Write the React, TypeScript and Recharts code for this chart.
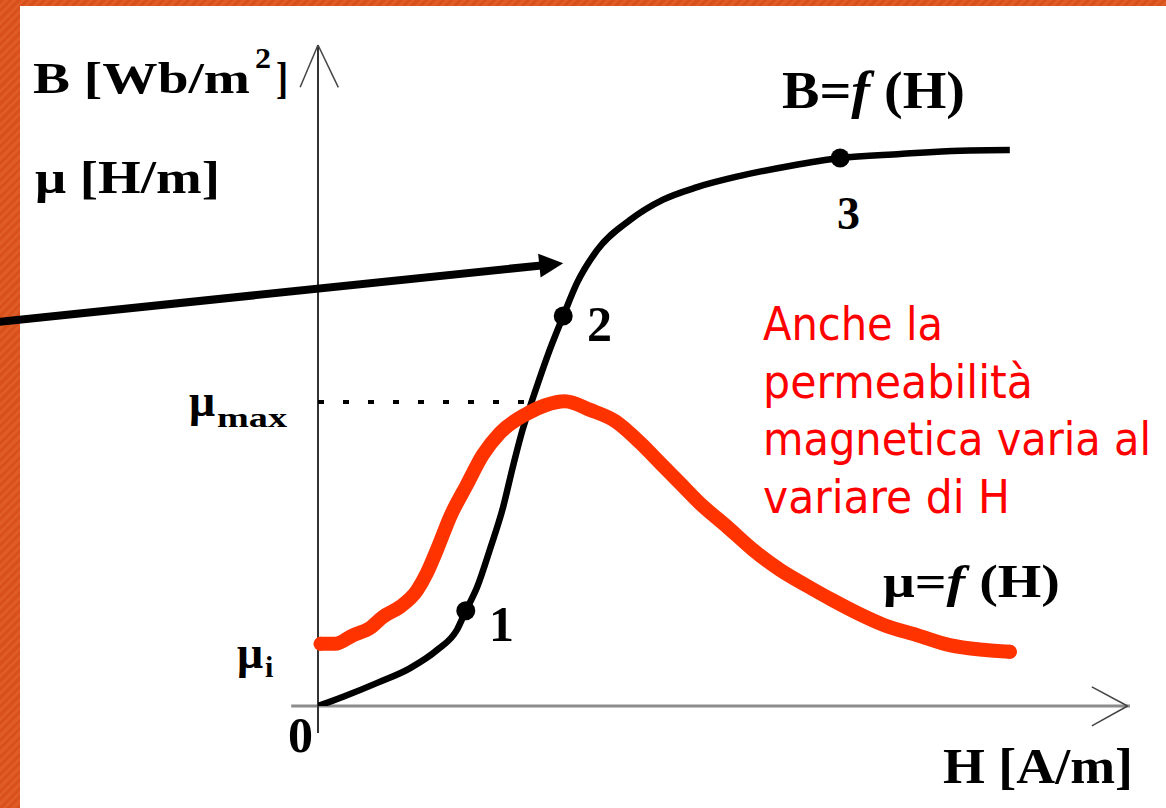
import React from 'react';
import { ComposedChart, Line, XAxis, YAxis, ReferenceLine, ReferenceDot } from 'recharts';

// B = f(H) curve (H and B on a 0..100 scale)
const bH = [0, 3.1, 7.3, 11.3, 14.7, 17.1, 18.2, 19.6, 21.2, 22.8, 24.0, 25.2, 26.5, 28.3, 30.2, 31.9, 34.4, 38.4, 42.5, 46.7, 52.0, 58.1, 64.3, 71.7, 79.1, 85.2];
const bValues = [0, 1.4, 3.5, 5.7, 8.5, 11.5, 14.4, 18.0, 23.8, 30.1, 36.2, 41.8, 46.7, 53.1, 59.0, 64.0, 69.0, 73.5, 76.6, 78.5, 80.2, 81.7, 82.9, 83.5, 84.0, 84.1];

// mu = f(H) curve (hand drawn red one)
const muH = [0.3, 2.1, 4.3, 6.4, 8.0, 10.1, 12.2, 13.4, 14.7, 16.3, 18.3, 20.3, 22.4, 25.7, 28.0, 30.4, 33.5, 36.6, 39.7, 42.1, 44.6, 47.0, 50.4, 53.6, 56.9, 60.2, 63.4, 66.7, 69.6, 73.8, 77.8, 81.9, 85.2];
const muValues = [9.4, 9.4, 10.7, 11.8, 13.5, 15.0, 17.5, 20.1, 23.8, 28.7, 33.4, 38.0, 41.3, 44.2, 45.5, 46.1, 44.8, 43.1, 39.8, 36.8, 33.7, 30.7, 27.1, 23.6, 20.6, 18.2, 16.0, 13.9, 12.3, 10.7, 9.2, 8.5, 8.2];

// marked points on B curve
const pointLabels = ['1', '2', '3'];
const pointH = [18.2, 30.2, 64.3];
const pointB = [14.4, 59.0, 82.9];

const MU_MAX = 46.0;
const MU_MAX_H = 26.7;

const noteLines = ['Anche la', 'permeabilità', 'magnetica varia al', 'variare di H'];

const bData = bH.map((h, i) => ({ h, b: bValues[i] }));
const muData = muH.map((h, i) => ({ h, m: muValues[i] }));
const muEnds = [0, muH.length - 1];

const W = 1166;
const H = 808;
const RED = '#FF3300';

const BigArrow = (props: any) => {
    const { x1, y1, x2, y2 } = props;
    const len = Math.hypot(x2 - x1, y2 - y1);
    const ux = (x2 - x1) / len;
    const uy = (y2 - y1) / len;
    const head = 24;
    const half = 12;
    const bx = x2 - ux * head;
    const by = y2 - uy * head;
    const pts = [
        [x2, y2],
        [bx - uy * half, by + ux * half],
        [bx + uy * half, by - ux * half],
    ].map(p => p.join(',')).join(' ');
    return (
        <g>
            <line x1={x1} y1={y1} x2={bx + ux * 2} y2={by + uy * 2} stroke="#000" strokeWidth={8} />
            <polygon points={pts} fill="#000" />
        </g>
    );
};

const serif = "'Liberation Serif', 'Times New Roman', serif";

const Labels = () => (
    <svg width={W} height={H} style={{ position: 'absolute', left: 0, top: 0, pointerEvents: 'none' }}>
        <g fontFamily={serif} fontWeight="bold" fill="#000">
            <text x={33} y={93} fontSize={44} textLength={217} lengthAdjust="spacingAndGlyphs">B [Wb/m</text>
            <text x={255} y={68} fontSize={30} textLength={16} lengthAdjust="spacingAndGlyphs">2</text>
            <text x={276} y={93} fontSize={44} textLength={12} lengthAdjust="spacingAndGlyphs">]</text>

            <text x={35} y={193} fontSize={46} textLength={185} lengthAdjust="spacingAndGlyphs">μ [H/m]</text>

            <text x={189} y={416} fontSize={46}>μ</text>
            <text x={217} y={427} fontSize={28} textLength={70} lengthAdjust="spacingAndGlyphs">max</text>

            <text x={237} y={668} fontSize={46}>μ</text>
            <text x={265} y={677} fontSize={30}>i</text>

            <text x={288} y={752} fontSize={50}>0</text>

            <text x={943} y={783} fontSize={50} textLength={190} lengthAdjust="spacingAndGlyphs">H [A/m]</text>

            <text x={782} y={108} fontSize={52} textLength={183} lengthAdjust="spacingAndGlyphs">
                B=<tspan fontStyle="italic">f</tspan> (H)
            </text>
            <text x={883} y={597} fontSize={46} textLength={177} lengthAdjust="spacingAndGlyphs">
                μ=<tspan fontStyle="italic">f</tspan> (H)
            </text>

            <text x={489} y={641} fontSize={50}>{pointLabels[0]}</text>
            <text x={587} y={341} fontSize={50}>{pointLabels[1]}</text>
            <text x={837} y={229} fontSize={46}>{pointLabels[2]}</text>
        </g>
        <g fontFamily="'DejaVu Sans Condensed', 'DejaVu Sans', sans-serif" fontStretch="condensed" fill="#FF0000" fontSize={46}>
            {noteLines.map((t, i) => (
                <text
                    key={t}
                    x={763}
                    y={340 + i * 57.5}
                    textLength={[180, 270, 388, 247][i]}
                    lengthAdjust="spacingAndGlyphs"
                >
                    {t}
                </text>
            ))}
        </g>
    </svg>
);

const App: React.FC = () => {
    return (
        <div style={{ position: 'absolute', left: 0, top: 0, width: W, height: H, background: '#fff', overflow: 'hidden' }}>
            <div
                style={{
                    position: 'absolute', left: 0, top: 0, width: 20, height: H,
                    background: 'repeating-linear-gradient(135deg, #D8511D 0px, #D8511D 3px, #DF5C27 3px, #DF5C27 6px)',
                }}
            />
            <div
                style={{
                    position: 'absolute', left: 0, top: 0, width: W, height: 6,
                    background: 'repeating-linear-gradient(135deg, #D8511D 0px, #D8511D 3px, #DF5C27 3px, #DF5C27 6px)',
                }}
            />
            <div style={{ position: 'absolute', left: 0, top: 0 }}>
                <ComposedChart width={W} height={H} margin={{ top: 45, right: 36, bottom: 102, left: 318 }}>
                    <XAxis type="number" dataKey="h" domain={[0, 100]} hide allowDataOverflow />
                    <YAxis type="number" domain={[0, 100]} hide allowDataOverflow />

                    {/* axes with open arrow heads */}
                    <ReferenceLine segment={[{ x: -3.3, y: 0 }, { x: 100, y: 0 }]} stroke="#8c8c8c" strokeWidth={3} ifOverflow="visible" />
                    <ReferenceLine segment={[{ x: 0, y: -4.1 }, { x: 0, y: 100 }]} stroke="#333" strokeWidth={2} ifOverflow="visible" />
                    <ReferenceLine segment={[{ x: -2.2, y: 93.6 }, { x: 0, y: 100 }]} stroke="#444" strokeWidth={1.5} ifOverflow="visible" />
                    <ReferenceLine segment={[{ x: 2.5, y: 93.6 }, { x: 0, y: 100 }]} stroke="#444" strokeWidth={1.5} ifOverflow="visible" />
                    <ReferenceLine segment={[{ x: 95.3, y: 2.9 }, { x: 99.7, y: 0 }]} stroke="#444" strokeWidth={1.5} ifOverflow="visible" />
                    <ReferenceLine segment={[{ x: 95.3, y: -3.0 }, { x: 99.7, y: 0 }]} stroke="#444" strokeWidth={1.5} ifOverflow="visible" />

                    {/* mu max guide */}
                    <ReferenceLine
                        segment={[{ x: 0, y: MU_MAX }, { x: MU_MAX_H, y: MU_MAX }]}
                        stroke="#000"
                        strokeWidth={4}
                        strokeDasharray="6 19"
                        ifOverflow="visible"
                    />

                    <Line
                        data={bData}
                        dataKey="b"
                        type="monotone"
                        stroke="#000"
                        strokeWidth={6.5}
                        dot={false}
                        activeDot={false}
                        isAnimationActive={false}
                    />
                    <Line
                        data={muData}
                        dataKey="m"
                        type="monotone"
                        stroke={RED}
                        strokeWidth={14}
                        strokeLinecap="round"
                        strokeLinejoin="round"
                        dot={false}
                        activeDot={false}
                        isAnimationActive={false}
                    />
                    {/* rounded pen ends of the red stroke */}
                    {muEnds.map(i => (
                        <ReferenceDot key={`end-${i}`} x={muH[i]} y={muValues[i]} r={7} fill={RED} stroke="none" ifOverflow="visible" />
                    ))}

                    {pointH.map((h, i) => (
                        <ReferenceDot key={pointLabels[i]} x={h} y={pointB[i]} r={9.5} fill="#000" stroke="none" ifOverflow="visible" />
                    ))}

                    <ReferenceLine
                        segment={[{ x: -39.4, y: 58.1 }, { x: 30.2, y: 67.0 }]}
                        ifOverflow="visible"
                        shape={BigArrow}
                    />
                </ComposedChart>
            </div>
            <Labels />
        </div>
    );
};

export default App;
